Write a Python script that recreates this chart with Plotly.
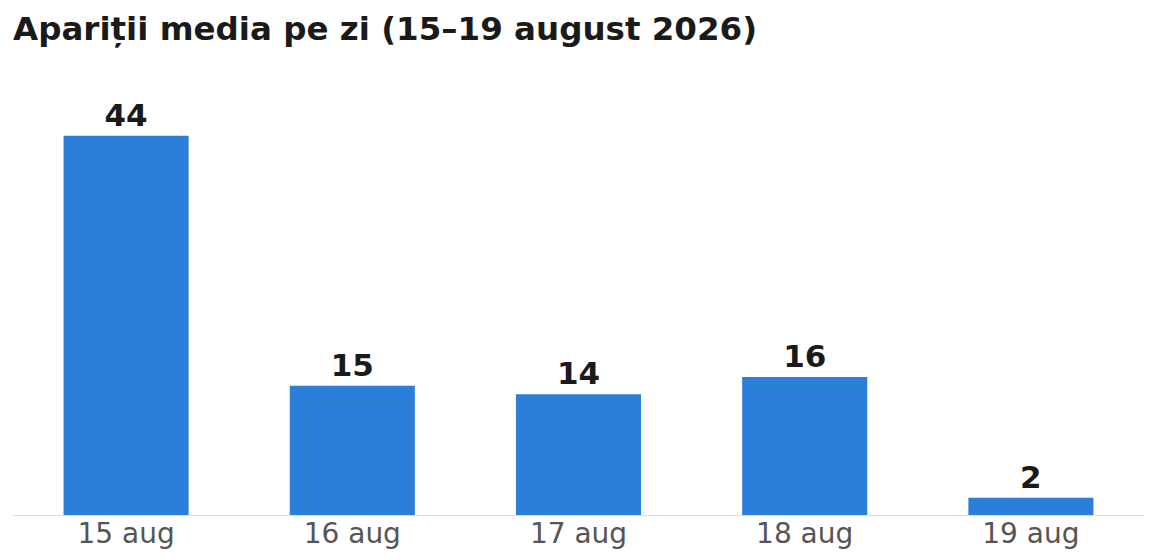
import plotly.graph_objects as go

categories = ["15 aug", "16 aug", "17 aug", "18 aug", "19 aug"]
values = [44, 15, 14, 16, 2]
title_text = "Apariții media pe zi (15–19 august 2026)"

fig = go.Figure(go.Bar(
    x=categories, y=values,
    marker=dict(color="#2B7FD9", line=dict(width=0)),
    text=[str(v) for v in values],
    textposition="outside",
    textfont=dict(family="DejaVu Sans", size=31, color="#1a1a1a", weight="bold"),
    cliponaxis=False,
    width=0.553,
))

fig.update_layout(
    width=1156, height=560,
    margin=dict(l=13, r=12, t=60, b=45, autoexpand=False),
    paper_bgcolor="white", plot_bgcolor="white",
    title=dict(text=title_text, x=13/1156, xanchor="left", y=1 - 29/560, yanchor="middle",
               font=dict(family="DejaVu Sans", size=32.5, color="#1a1a1a", weight="bold")),
    showlegend=False,
    bargap=0.447,
)
fig.update_xaxes(showgrid=False, showline=True, linecolor="#dddddd", linewidth=1,
                 ticks="", automargin=False, ticklabelstandoff=-7,
                 tickfont=dict(family="DejaVu Sans", size=28, color="#555555"))
fig.update_yaxes(range=[0, 52.8], showgrid=False, showticklabels=False, zeroline=False,
                 showline=False, ticks="", automargin=False)

fig.write_html("out.html", config={"displayModeBar": False},
               post_script="document.body.style.margin='0';")
